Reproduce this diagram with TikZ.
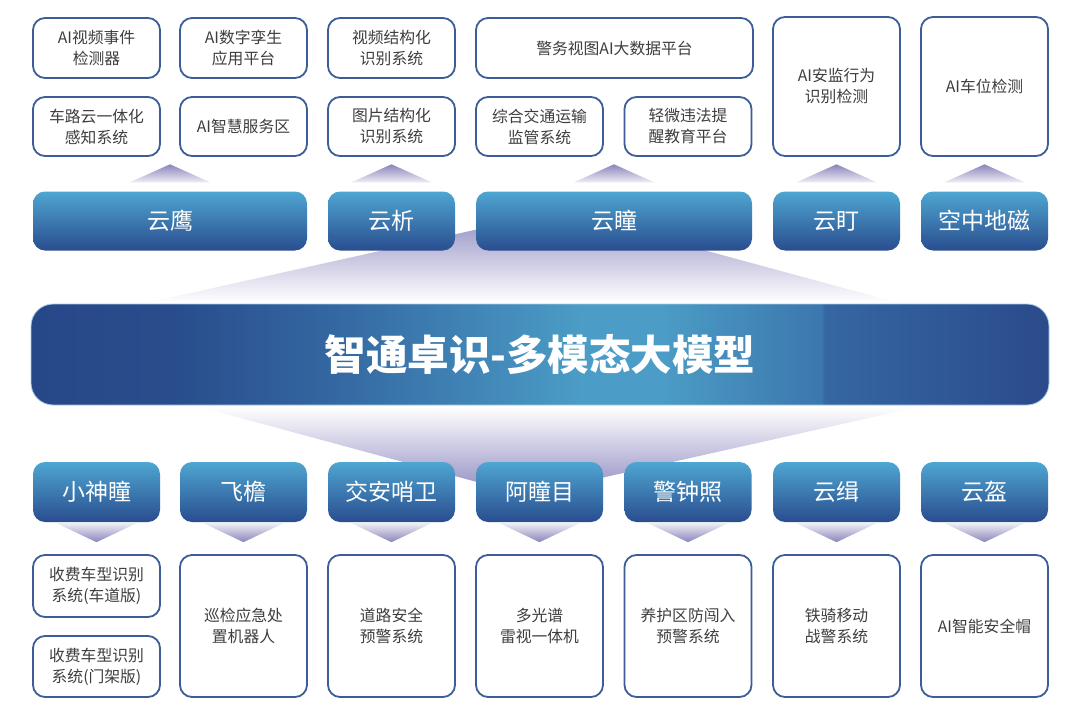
\documentclass[tikz,border=0pt]{standalone}
\usepackage{fontspec}
\setmainfont{Noto Sans CJK SC}
\usetikzlibrary{calc}
\definecolor{boxline}{HTML}{3B5E98}
\definecolor{boxtext}{HTML}{3E3E3E}
\definecolor{btop}{HTML}{4EA6D1}
\definecolor{bbot}{HTML}{2A4D8F}
\definecolor{mdark}{HTML}{274888}
\definecolor{mmidl}{HTML}{3468A2}
\definecolor{mlight}{HTML}{4B9CC6}
\definecolor{mseam}{HTML}{3C77AD}
\definecolor{mseamr}{HTML}{3567A3}
\definecolor{mdarkr}{HTML}{2B4A8B}
\definecolor{mrim}{HTML}{A8CDE4}
\definecolor{fan}{HTML}{8E8AC0}
\definecolor{tri}{HTML}{8985BB}
\definecolor{trilight}{HTML}{EDEDF5}
\pgfdeclarehorizontalshading{mainshade}{100bp}{color(0bp)=(mdark); color(25bp)=(mdark);
  color(32bp)=(mdark!85!mmidl); color(40bp)=(mmidl); color(52bp)=(mlight); color(56bp)=(mlight);
  color(63.8bp)=(mseam); color(64bp)=(mseamr); color(75bp)=(mdarkr); color(100bp)=(mdarkr)}
\begin{document}
\begin{tikzpicture}[x=1pt,y=-1pt,
  wbox/.style={draw=boxline, line width=1.8pt, fill=white, rounded corners=12pt,
    minimum width=127pt, text=boxtext, align=center,
    font=\fontsize{15.8}{21}\selectfont, inner sep=2pt},
  bbox/.style={rounded corners=12pt, top color=btop, bottom color=bbot,
    minimum width=127pt, minimum height=59pt, text=white,
    font=\fontsize{23}{26}\selectfont, inner sep=0pt},
  mainbar/.style={rounded corners=22pt, draw=mrim, line width=0.8pt,
    shading=mainshade,
    minimum width=1018pt, minimum height=101pt, text=white,
    font=\fontsize{41.5}{46}\selectfont\bfseries, inner sep=0pt},
  uptri/.style={top color=tri, bottom color=trilight},
  downtri/.style={top color=trilight, bottom color=tri},
  fanup/.style={top color=fan, bottom color=white},
  fandown/.style={top color=white, bottom color=fan}
]
\useasboundingbox (0,0) rectangle (1080,717);
\fill[white] (0,0) rectangle (1080,717);

% large fans
\shade[fanup] (150,302) -- (895,302) -- (560,211) -- cycle;
\shade[fandown] (200,407) -- (918,407) -- (525,495) -- cycle;

% top white boxes
\node[wbox, minimum height=60pt] (t1) at (96.5,48) {AI视频事件\\检测器};
\node[wbox, minimum height=60pt] (t2) at (243.5,48) {AI数字孪生\\应用平台};
\node[wbox, minimum height=60pt] (t3) at (391.5,48) {视频结构化\\识别系统};
\node[wbox, minimum height=60pt, minimum width=277pt] (t4) at (614.5,48) {警务视图AI大数据平台};
\node[wbox, minimum height=59pt] (s1) at (96.5,126.5) {车路云一体化\\感知系统};
\node[wbox, minimum height=59pt] (s2) at (243.5,126.5) {AI智慧服务区};
\node[wbox, minimum height=59pt] (s3) at (391.5,126.5) {图片结构化\\识别系统};
\node[wbox, minimum height=59pt] (s4) at (539.5,126.5) {综合交通运输\\监管系统};
\node[wbox, minimum height=59pt] (s5) at (688,126.5) {轻微违法提\\醒教育平台};
\node[wbox, minimum height=139pt] (t6) at (836.5,86.5) {AI安监行为\\识别检测};
\node[wbox, minimum height=139pt] (t7) at (984.5,86.5) {AI车位检测};

% upper blue boxes
\node[bbox, minimum width=274pt] (b1) at (170,221) {云鹰};
\node[bbox] (b2) at (391.5,221) {云析};
\node[bbox, minimum width=276pt] (b3) at (614,221) {云瞳};
\node[bbox] (b4) at (836.5,221) {云盯};
\node[bbox] (b5) at (984.5,221) {空中地磁};

\foreach \n in {b1,b2,b3,b4,b5}{
  \shade[uptri] ($(\n.north)+(0,-27)$) -- ($(\n.north)+(40,-9)$) -- ($(\n.north)+(-40,-9)$) -- cycle;
}

% main bar
\node[mainbar] (main) at (540,354.5) {智通卓识-多模态大模型};

% lower blue boxes
\node[bbox, minimum height=60pt] (l1) at (96.5,492) {小神瞳};
\node[bbox, minimum height=60pt] (l2) at (243.5,492) {飞檐};
\node[bbox, minimum height=60pt] (l3) at (391.5,492) {交安哨卫};
\node[bbox, minimum height=60pt] (l4) at (539.5,492) {阿瞳目};
\node[bbox, minimum height=60pt] (l5) at (688,492) {警钟照};
\node[bbox, minimum height=60pt] (l6) at (836.5,492) {云缉};
\node[bbox, minimum height=60pt] (l7) at (984.5,492) {云盔};

\foreach \n in {l1,l2,l3,l4,l5,l6,l7}{
  \shade[downtri] ($(\n.south)+(-40,1)$) -- ($(\n.south)+(40,1)$) -- ($(\n.south)+(0,20)$) -- cycle;
}

% bottom white boxes
\node[wbox, minimum height=62pt] (u1a) at (96.5,586) {收费车型识别\\系统(车道版)};
\node[wbox, minimum height=61pt] (u1b) at (96.5,666.5) {收费车型识别\\系统(门架版)};
\node[wbox, minimum height=142pt] (u2) at (243.5,626) {巡检应急处\\置机器人};
\node[wbox, minimum height=142pt] (u3) at (391.5,626) {道路安全\\预警系统};
\node[wbox, minimum height=142pt] (u4) at (539.5,626) {多光谱\\雷视一体机};
\node[wbox, minimum height=142pt] (u5) at (688,626) {养护区防闯入\\预警系统};
\node[wbox, minimum height=142pt] (u6) at (836.5,626) {铁骑移动\\战警系统};
\node[wbox, minimum height=142pt] (u7) at (984.5,626) {AI智能安全帽};
\end{tikzpicture}
\end{document}
